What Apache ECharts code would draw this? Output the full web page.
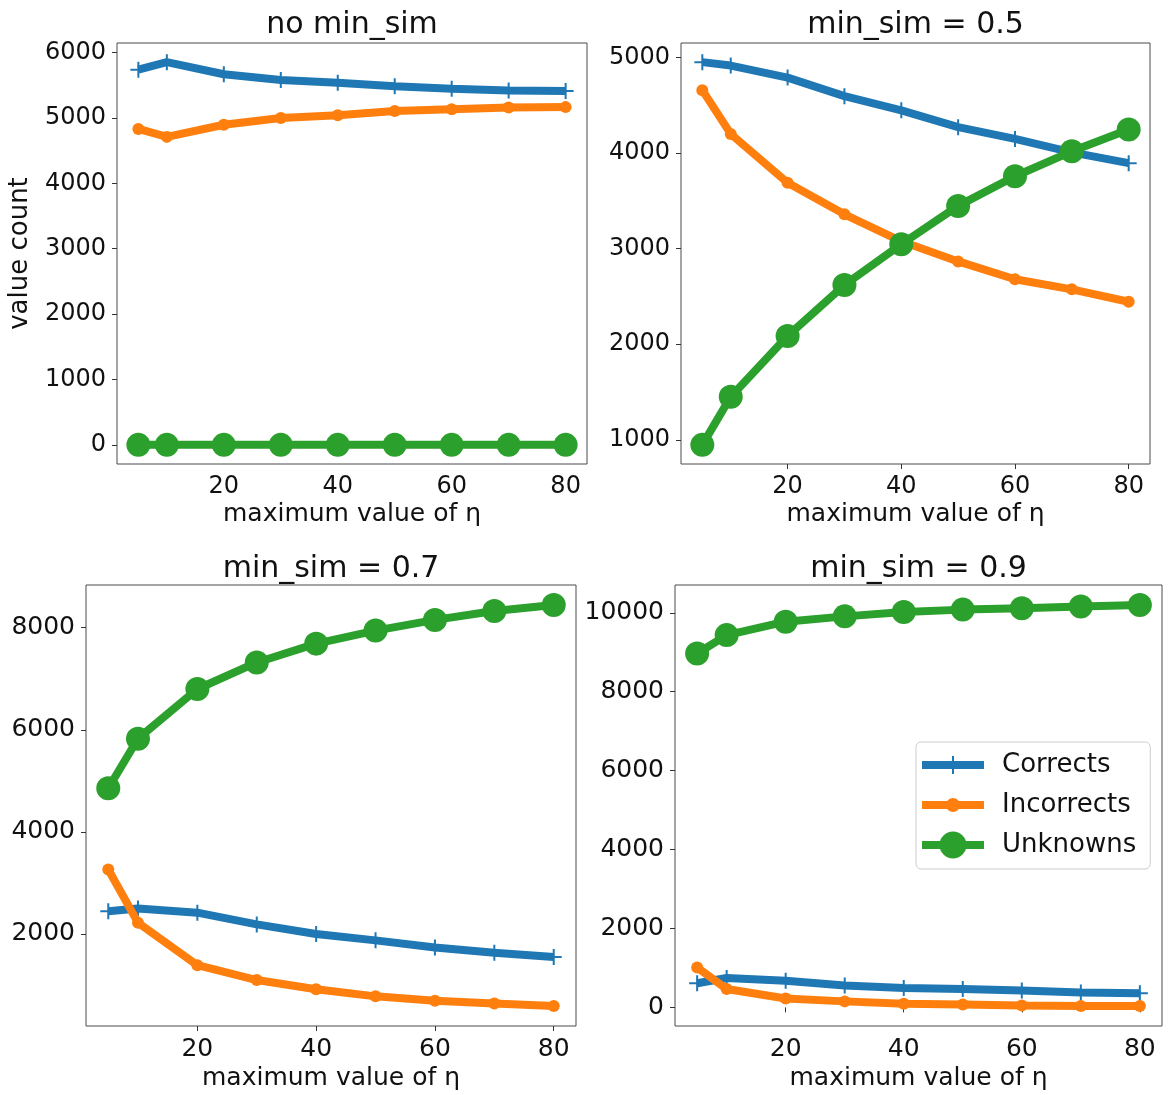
<!DOCTYPE html>
<html>
<head>
<meta charset="utf-8">
<script src="https://cdn.jsdelivr.net/npm/echarts@6/dist/echarts.min.js"></script>
<style>
  html, body { margin: 0; padding: 0; background: #ffffff; }
  #chart { width: 1168px; height: 1095px; }
</style>
</head>
<body>
<div id="chart"></div>
<script>
// ---- data ----
const xs = [5, 10, 20, 30, 40, 50, 60, 70, 80];
const seriesNames = ['Corrects', 'Incorrects', 'Unknowns'];
const panelTitles = ['no min_sim', 'min_sim = 0.5', 'min_sim = 0.7', 'min_sim = 0.9'];

const corrects1   = [5737, 5853, 5668, 5579, 5537, 5484, 5447, 5421, 5410];
const incorrects1 = [4832, 4710, 4895, 5000, 5042, 5105, 5132, 5158, 5165];
const unknowns1   = [0, 0, 0, 0, 0, 0, 0, 0, 0];

const corrects2   = [4951, 4915, 4789, 4595, 4447, 4271, 4148, 4007, 3894];
const incorrects2 = [4658, 4200, 3690, 3359, 3077, 2866, 2680, 2574, 2444];
const unknowns2   = [947, 1451, 2085, 2620, 3046, 3447, 3757, 4018, 4247];

const corrects3   = [2444, 2500, 2417, 2188, 2000, 1875, 1736, 1632, 1549];
const incorrects3 = [3264, 2222, 1389, 1097, 917, 778, 694, 639, 590];
const unknowns3   = [4854, 5826, 6799, 7319, 7688, 7944, 8153, 8326, 8444];

const corrects4   = [610, 744, 673, 556, 493, 466, 430, 377, 359];
const incorrects4 = [1013, 466, 224, 152, 90, 72, 45, 36, 36];
const unknowns4   = [8969, 9435, 9776, 9910, 10018, 10081, 10117, 10161, 10197];

const xTicks  = [20, 40, 60, 80];
const yTicks1 = [0, 1000, 2000, 3000, 4000, 5000, 6000];
const yTicks2 = [1000, 2000, 3000, 4000, 5000];
const yTicks3 = [2000, 4000, 6000, 8000];
const yTicks4 = [0, 2000, 4000, 6000, 8000, 10000];

const xLabel = 'maximum value of η';
const yLabel = 'value count';

// ---- layout / style ----
const panels = [
  { c: corrects1, i: incorrects1, u: unknowns1, yt: yTicks1 },
  { c: corrects2, i: incorrects2, u: unknowns2, yt: yTicks2 },
  { c: corrects3, i: incorrects3, u: unknowns3, yt: yTicks3 },
  { c: corrects4, i: incorrects4, u: unknowns4, yt: yTicks4 }
];
const gridPos = [
  { left: 117, top: 43,  width: 470, height: 421 },
  { left: 681, top: 43,  width: 469, height: 421 },
  { left: 86,  top: 585, width: 490, height: 441 },
  { left: 675, top: 585, width: 487, height: 441 }
];
const tickFont = [24, 24, 25, 25];
const colors = ['#1f77b4', '#ff7f0e', '#2ca02c'];
const FONT = 'DejaVu Sans';
const TXT = '#111111';
const plusPath = 'path://M7,0h2v16h-2z M0,7h16v2h-16z';
const symbols = [plusPath, 'circle', 'circle'];
const symbolSizes = [16, 12, 24];

const xMin = Math.min(...xs), xMax = Math.max(...xs);
const xPad = (xMax - xMin) * 0.05;

const grid = [], xAxis = [], yAxis = [], series = [], title = [];
panels.forEach((p, k) => {
  const g = gridPos[k];
  grid.push(Object.assign({ show: true, borderColor: '#4a4a4a', borderWidth: 1, backgroundColor: 'transparent', containLabel: false }, g));
  title.push({
    text: panelTitles[k],
    left: g.left + g.width / 2,
    top: k < 2 ? 10 : 554,
    textAlign: 'center',
    padding: 0,
    textStyle: { fontFamily: FONT, fontSize: 30, fontWeight: 'normal', color: TXT }
  });
  xAxis.push({
    type: 'value', gridIndex: k,
    min: xMin - xPad, max: xMax + xPad,
    name: xLabel, nameLocation: 'middle', nameGap: k < 2 ? 38 : 40,
    nameTextStyle: { fontFamily: FONT, fontSize: 25, color: TXT },
    axisLine: { show: false },
    splitLine: { show: false },
    axisTick: { show: true, inside: false, length: 5, lineStyle: { color: '#333' }, customValues: xTicks },
    axisLabel: { fontFamily: FONT, fontSize: tickFont[k], color: TXT, margin: 11, customValues: xTicks, formatter: v => String(v) }
  });
  const all = p.c.concat(p.i, p.u);
  const lo = Math.min(...all), hi = Math.max(...all);
  const pad = (hi - lo) * 0.05;
  const ya = {
    type: 'value', gridIndex: k,
    min: lo - pad, max: hi + pad,
    axisLine: { show: false },
    splitLine: { show: false },
    axisTick: { show: true, inside: false, length: 5, lineStyle: { color: '#333' }, customValues: p.yt },
    axisLabel: { fontFamily: FONT, fontSize: tickFont[k], color: TXT, margin: 11, customValues: p.yt, formatter: v => String(v) }
  };
  if (k === 0) {
    ya.name = yLabel;
    ya.nameLocation = 'middle';
    ya.nameGap = 84;
    ya.nameTextStyle = { fontFamily: FONT, fontSize: 26, color: TXT };
  }
  yAxis.push(ya);
  [p.c, p.i, p.u].forEach((vals, s) => {
    series.push({
      type: 'line', name: seriesNames[s],
      xAxisIndex: k, yAxisIndex: k,
      data: xs.map((x, j) => [x, vals[j]]),
      symbol: symbols[s], symbolSize: symbolSizes[s], symbolKeepAspect: true,
      showSymbol: true, showAllSymbol: true,
      lineStyle: { color: colors[s], width: 8 },
      itemStyle: { color: colors[s] },
      emphasis: { disabled: true },
      z: 2 + s,
      clip: false
    });
  });
});

const option = {
  animation: false,
  backgroundColor: '#ffffff',
  textStyle: { fontFamily: FONT },
  title,
  grid, xAxis, yAxis, series,
  legend: {
    orient: 'vertical',
    left: 916, top: 742,
    padding: [9, 14, 10, 6],
    itemWidth: 62, itemHeight: 28, itemGap: 12,
    backgroundColor: 'rgba(255,255,255,0.85)',
    borderColor: '#cccccc', borderWidth: 1, borderRadius: 5,
    symbolKeepAspect: true,
    selectedMode: false,
    textStyle: { fontFamily: FONT, fontSize: 26, color: TXT, padding: [0, 0, 0, 13], lineHeight: 28 },
    data: [
      { name: 'Corrects',   icon: 'path://M0,5h62v8h-62z M30,0h2v18h-2z' },
      { name: 'Incorrects', icon: 'path://M0,3h62v8h-62z M24,7a7,7 0 1,1 14,0a7,7 0 1,1 -14,0z' },
      { name: 'Unknowns',   icon: 'path://M0,9.5h62v8h-62z M17.5,13.5a13.5,13.5 0 1,1 27,0a13.5,13.5 0 1,1 -27,0z' }
    ]
  }
};

const chart = echarts.init(document.getElementById('chart'), null, { renderer: 'canvas' });
chart.setOption(option);
</script>
</body>
</html>
